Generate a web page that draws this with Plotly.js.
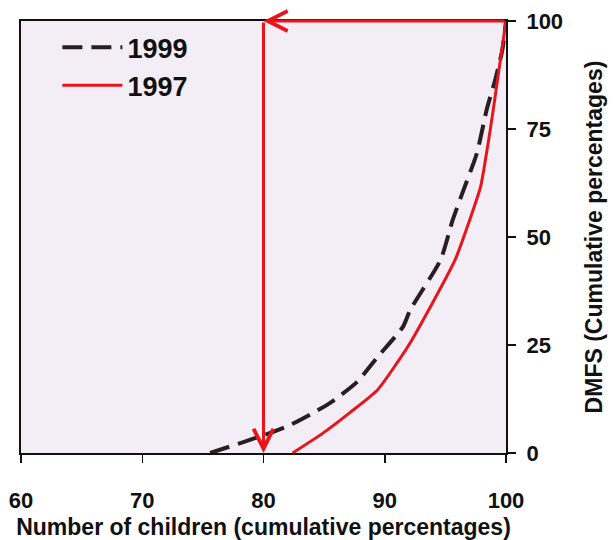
<!DOCTYPE html>
<html>
<head>
<meta charset="utf-8">
<script src="https://cdn.plot.ly/plotly-3.0.1.min.js"></script>
<style>html,body{margin:0;padding:0;background:#fff;}#chart{width:614px;height:540px;}</style>
</head>
<body>
<div id="chart"></div>
<script>
// Cumulative percentages
const children1999 = [75.6, 78.1, 80.5, 82.2, 84.1, 85.5, 87.7, 89.4, 91.5, 92.1, 94.6, 95.6, 96.5, 97.6, 98.4, 99.1, 99.7, 100];
const dmfs1999     = [0,    2.3,  4.6,  6.5,  9.3,  11.6, 16.4, 22.2, 29.2, 33.1, 44.7, 53.9, 60.9, 69.4, 79.4, 86.3, 93.3, 100];
const children1997 = [82.4, 84.9, 87.1, 89.4, 91.0, 92.1, 95.8, 97.0, 97.9, 98.3, 98.7, 99.1, 99.5, 100];
const dmfs1997     = [0,    4.6,  9.3,  14.6, 20.8, 25.5, 44.7, 53.9, 61.6, 67.8, 74.8, 82.4, 90.3, 100];
const xTicks = [60, 70, 80, 90, 100];
const yTicks = [0, 25, 50, 75, 100];
const cutoff = {x: 80, yTop: 100, yBottom: 0, xStart: 100};

const FONT = 'Liberation Sans, Arial, sans-serif';

const traces = [
  {x: children1999, y: dmfs1999, name: '1999', type: 'scatter', mode: 'lines',
   line: {color: '#2a1e22', width: 4, dash: '20px,9px', shape: 'spline', smoothing: 0.6}},
  {x: children1997, y: dmfs1997, name: '1997', type: 'scatter', mode: 'lines',
   line: {color: '#e8141c', width: 3, shape: 'spline', smoothing: 0.6}}
];

const layout = {
  width: 614, height: 540,
  margin: {l: 21, r: 108, t: 21, b: 87},
  paper_bgcolor: '#ffffff',
  plot_bgcolor: '#f3eef5',
  font: {family: FONT, color: '#111', size: 20, weight: 'bold'},
  showlegend: true,
  legend: {x: 0.075, y: 0.995, xanchor: 'left', yanchor: 'top', bgcolor: 'rgba(0,0,0,0)',
           font: {family: FONT, size: 27, weight: 'bold', color: '#111'},
           itemwidth: 60, tracegroupgap: 0},
  xaxis: {range: [60, 100], tickvals: xTicks, ticktext: xTicks.map(String),
          showgrid: false, zeroline: false, showline: true, linecolor: '#111', linewidth: 2,
          mirror: true, ticks: 'outside', ticklen: 8, tickwidth: 1.5, tickcolor: '#111',
          ticklabelstandoff: 19,
          tickfont: {family: FONT, size: 22, weight: 'bold', color: '#111'},
          title: {text: 'Number of children (cumulative percentages)', standoff: 8,
                  font: {family: FONT, size: 23, weight: 'bold', color: '#111'}}},
  yaxis: {range: [0, 100], side: 'right', tickvals: yTicks, ticktext: yTicks.map(String),
          showgrid: false, zeroline: false, showline: true, linecolor: '#111', linewidth: 2,
          mirror: true, ticks: 'outside', ticklen: 8, tickwidth: 1.5, tickcolor: '#111',
          ticklabelstandoff: 6,
          tickfont: {family: FONT, size: 22, weight: 'bold', color: '#111'},
          title: {text: 'DMFS (Cumulative percentages)', standoff: 24,
                  font: {family: FONT, size: 23, weight: 'bold', color: '#111'}}},
  annotations: [
    {x: cutoff.x, y: cutoff.yTop, ax: cutoff.xStart, ay: cutoff.yTop, xref: 'x', yref: 'y',
     axref: 'x', ayref: 'y', text: '', showarrow: true, arrowhead: 5, arrowsize: 1.3,
     arrowwidth: 3, arrowcolor: '#e8141c'},
    {x: cutoff.x, y: cutoff.yBottom, ax: cutoff.x, ay: cutoff.yTop, xref: 'x', yref: 'y',
     axref: 'x', ayref: 'y', text: '', showarrow: true, arrowhead: 5, arrowsize: 1.3,
     arrowwidth: 3, arrowcolor: '#e8141c'}
  ]
};

Plotly.newPlot('chart', traces, layout, {displayModeBar: false, staticPlot: true});
</script>
</body>
</html>
